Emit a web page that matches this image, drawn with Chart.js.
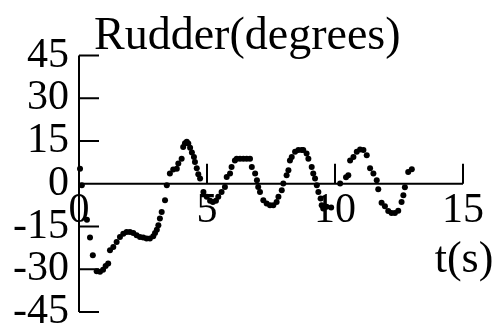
<!DOCTYPE html>
<html>
<head>
<meta charset="utf-8">
<script src="https://cdn.jsdelivr.net/npm/chart.js@4"></script>
<style>
  html, body { margin: 0; padding: 0; background: #fff; }
  #wrap { width: 497px; height: 324px; }
</style>
</head>
<body>
<div id="wrap"><canvas id="c" width="497" height="324"></canvas></div>
<script>
// Rudder angle record (time in seconds, angle in degrees)
const times = [
  0.04, 0.11, 0.31, 0.43, 0.54, 0.69, 0.82, 0.94, 1.04, 1.14,
  1.21, 1.34, 1.47, 1.60, 1.73, 1.86, 1.99, 2.12, 2.25, 2.38,
  2.51, 2.64, 2.77, 2.90, 2.97, 3.04, 3.10, 3.16, 3.23, 3.36,
  3.43, 3.55, 3.68, 3.82, 3.88, 4.01, 4.07, 4.14, 4.21, 4.27,
  4.34, 4.41, 4.49, 4.53, 4.60, 4.66, 4.73, 4.86, 4.99, 5.12,
  5.23, 5.35, 5.44, 5.57, 5.70, 5.77, 5.90, 5.96, 6.09, 6.16,
  6.29, 6.42, 6.55, 6.68, 6.75, 6.88, 6.95, 7.00, 7.07, 7.20,
  7.33, 7.46, 7.59, 7.72, 7.79, 7.92, 7.98, 8.11, 8.18, 8.24,
  8.31, 8.44, 8.57, 8.70, 8.76, 8.89, 8.96, 9.09, 9.15, 9.22,
  9.29, 9.35, 9.44, 9.48, 9.54, 9.67, 9.85, 10.20, 10.43, 10.52,
  10.59, 10.72, 10.85, 10.98, 11.11, 11.24, 11.37, 11.50, 11.63, 11.69,
  11.82, 11.95, 12.08, 12.21, 12.34, 12.47, 12.60, 12.67, 12.73, 12.86,
  13.00
];
const rudder = [
  5.3, -0.5, -12.6, -18.9, -25.1, -30.7, -30.9, -30.2, -28.9, -28.0,
  -23.3, -22.2, -20.4, -18.7, -17.5, -16.9, -16.9, -17.3, -18.1, -18.7,
  -18.9, -19.2, -19.2, -18.4, -17.3, -16.1, -14.6, -12.2, -9.9, -5.8,
  -0.5, 3.6, 5.0, 5.3, 7.1, 8.8, 12.9, 14.2, 14.7, 14.1,
  12.6, 11.0, 9.4, 7.6, 5.4, 3.3, 1.8, -2.9, -4.6, -6.0,
  -6.4, -6.0, -4.6, -2.9, -1.1, 2.4, 3.6, 5.9, 8.2, 8.8,
  8.8, 8.8, 8.8, 8.8, 5.9, 3.6, 1.2, -1.1, -2.9, -5.8,
  -6.9, -7.5, -7.5, -6.4, -4.6, -2.3, 0.1, 3.0, 4.7, 8.2,
  9.4, 11.2, 11.8, 11.8, 11.8, 10.6, 8.8, 5.9, 3.6, 1.8,
  -0.5, -2.9, -5.2, -7.5, -8.7, -8.1, -8.3, 0.1, 2.3, 3.0,
  8.2, 9.4, 11.2, 12.0, 11.8, 10.0, 5.4, 3.6, 1.2, -1.9,
  -6.7, -7.9, -9.6, -10.3, -10.3, -9.5, -6.4, -4.0, -1.2, 4.1,
  5.1
];
const xTicks = [0, 5, 10, 15];
const yTicks = [-45, -30, -15, 0, 15, 30, 45];
const titleText = 'Rudder(degrees)';
const xAxisText = 't(s)';

const points = times.map((t, i) => ({ x: t, y: rudder[i] }));
const serif = '"Liberation Serif", "Times New Roman", serif';

// Axes crossing at the origin, with inward tick marks and serif labels
const crossAxes = {
  id: 'crossAxes',
  afterDraw(chart) {
    const { ctx, scales: { x, y } } = chart;
    const x0 = x.getPixelForValue(0);
    const y0 = y.getPixelForValue(0);
    const tickLen = 20;
    ctx.save();
    ctx.strokeStyle = '#000';
    ctx.lineWidth = 2;
    ctx.lineCap = 'butt';

    ctx.beginPath();
    ctx.moveTo(x0, y.getPixelForValue(yTicks[yTicks.length - 1]));
    ctx.lineTo(x0, y.getPixelForValue(yTicks[0]));
    ctx.moveTo(x.getPixelForValue(xTicks[0]), y0);
    ctx.lineTo(x.getPixelForValue(xTicks[xTicks.length - 1]), y0);
    yTicks.forEach(v => {
      const py = y.getPixelForValue(v);
      ctx.moveTo(x0, py);
      ctx.lineTo(x0 + tickLen, py);
    });
    xTicks.forEach(v => {
      const px = x.getPixelForValue(v);
      ctx.moveTo(px, y0);
      ctx.lineTo(px, y0 - tickLen);
    });
    ctx.stroke();

    ctx.fillStyle = '#000';
    ctx.font = '42px ' + serif;
    ctx.textAlign = 'right';
    ctx.textBaseline = 'middle';
    yTicks.forEach(v => {
      ctx.fillText(String(v), x0 - 10, y.getPixelForValue(v));
    });
    ctx.textAlign = 'center';
    xTicks.forEach(v => {
      ctx.fillText(String(v), x.getPixelForValue(v), y0 + 27);
    });

    ctx.font = '46px ' + serif;
    ctx.textAlign = 'left';
    ctx.textBaseline = 'alphabetic';
    ctx.fillText(titleText, 94, 49);

    ctx.font = '44px ' + serif;
    ctx.textAlign = 'center';
    ctx.fillText(xAxisText, 464, 272);
    ctx.restore();
  }
};

new Chart(document.getElementById('c'), {
  type: 'scatter',
  data: {
    datasets: [{
      data: points,
      pointRadius: 3,
      pointHoverRadius: 3,
      pointBackgroundColor: '#000',
      pointBorderWidth: 0,
      showLine: false,
      clip: false
    }]
  },
  options: {
    responsive: false,
    animation: false,
    devicePixelRatio: 1,
    layout: { padding: { left: 79, right: 34, top: 55.5, bottom: 12 } },
    plugins: { legend: { display: false }, tooltip: { enabled: false }, title: { display: false } },
    scales: {
      x: { type: 'linear', min: 0, max: 15, display: false },
      y: { type: 'linear', min: -45, max: 45, display: false }
    }
  },
  plugins: [crossAxes]
});
</script>
</body>
</html>
